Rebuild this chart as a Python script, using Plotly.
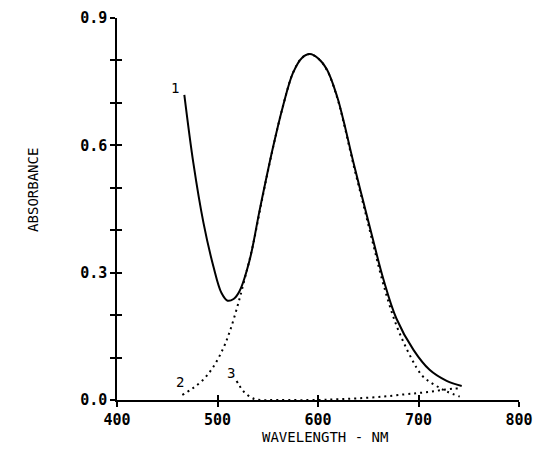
import plotly.graph_objects as go

# ---- data ----
wl_total = [467, 476, 486, 496, 504, 510, 516, 522, 532, 542, 555, 565, 575, 584,
            592, 600, 609, 619, 625, 635, 645, 655, 665, 678, 695, 711, 728, 743]
abs_total = [0.719, 0.558, 0.418, 0.314, 0.252, 0.234, 0.238, 0.257, 0.330, 0.448,
             0.593, 0.691, 0.770, 0.806, 0.815, 0.805, 0.778, 0.715, 0.662, 0.562,
             0.468, 0.375, 0.285, 0.192, 0.118, 0.071, 0.045, 0.033]

wl_band2 = [465, 475, 485, 495, 505, 512, 520, 527, 535, 545, 555, 565, 575, 584,
            592, 600, 609, 619, 625, 635, 645, 655, 665, 678, 693, 703, 711, 720,
            728, 741]
abs_band2 = [0.012, 0.027, 0.046, 0.075, 0.118, 0.160, 0.222, 0.285, 0.362, 0.480,
             0.592, 0.691, 0.770, 0.806, 0.815, 0.805, 0.777, 0.713, 0.659, 0.557,
             0.462, 0.366, 0.273, 0.176, 0.098, 0.059, 0.043, 0.030, 0.020, 0.008]

wl_band3 = [519, 522, 526, 532, 539, 560, 600, 620, 640, 665, 685, 698, 710, 722,
            735, 743]
abs_band3 = [0.045, 0.033, 0.020, 0.008, 0.001, 0.000, 0.000, 0.002, 0.004, 0.008,
             0.013, 0.016, 0.019, 0.023, 0.027, 0.027]

curve_labels = ["1", "2", "3"]
label_x = [458, 463, 513]
label_y = [0.735, 0.043, 0.064]

x_tickvals = [400, 500, 600, 700, 800]
x_ticktext = ["400", "500", "600", "700", "800"]
y_tickvals = [0.0, 0.1, 0.2, 0.3, 0.4, 0.5, 0.6, 0.7, 0.8, 0.9]
y_ticktext = ["0.0", "", "", "0.3", "", "", "0.6", "", "", "0.9"]

FONT = "DejaVu Sans Mono"

fig = go.Figure()
fig.add_trace(go.Scatter(x=wl_total, y=abs_total, mode="lines",
                         line=dict(color="black", width=2, shape="spline"),
                         showlegend=False))
fig.add_trace(go.Scatter(x=wl_band2, y=abs_band2, mode="lines",
                         line=dict(color="black", width=2, shape="spline",
                                   dash="2px,4px"),
                         showlegend=False))
fig.add_trace(go.Scatter(x=wl_band3, y=abs_band3, mode="lines",
                         line=dict(color="black", width=2, shape="spline",
                                   dash="2px,4px"),
                         showlegend=False))
# helper trace so the inner-tick overlay axes are drawn
fig.add_trace(go.Scatter(x=[None], y=[None], xaxis="x2", yaxis="y2",
                         showlegend=False, hoverinfo="skip"))

for t, xx, yy in zip(curve_labels, label_x, label_y):
    fig.add_annotation(x=xx, y=yy, text=t, showarrow=False,
                       font=dict(family=FONT, size=14, color="black"))

fig.add_annotation(xref="paper", yref="paper", x=-0.209, y=0.55,
                   text="ABSORBANCE", textangle=-90, showarrow=False,
                   xanchor="center", yanchor="middle",
                   font=dict(family=FONT, size=14, color="black"))
fig.add_annotation(xref="paper", yref="paper", x=0.517, y=-0.097,
                   text="WAVELENGTH - NM", showarrow=False,
                   xanchor="center", yanchor="middle",
                   font=dict(family=FONT, size=14, color="black"))

axis_common = dict(showgrid=False, zeroline=False, showline=True,
                   linecolor="black", linewidth=1.5, tickcolor="black",
                   tickwidth=1.5, ticklen=5, automargin=False)
tickfont = dict(family=FONT, size=15, color="black", weight="bold")

fig.update_layout(
    width=535, height=464, autosize=False,
    margin=dict(l=117, r=16, t=18, b=64, autoexpand=False),
    paper_bgcolor="white", plot_bgcolor="white",
    font=dict(family=FONT, size=14, color="black"),
    xaxis=dict(range=[400, 800], tickvals=x_tickvals, ticktext=x_ticktext,
               ticks="outside", tickfont=tickfont, **axis_common),
    yaxis=dict(range=[0, 0.9], tickvals=y_tickvals, ticktext=y_ticktext,
               ticks="outside", tickfont=tickfont, **axis_common),
    xaxis2=dict(range=[400, 800], tickvals=x_tickvals, ticks="inside",
                showticklabels=False, overlaying="x", side="bottom",
                anchor="y2", **axis_common),
    yaxis2=dict(range=[0, 0.9], tickvals=y_tickvals, ticks="inside",
                showticklabels=False, overlaying="y", side="left",
                anchor="x2", **axis_common),
)

# remove the default 8px page margin so the figure sits at the window origin
fig.write_html("out.html", config={"displayModeBar": False},
               post_script="document.body.style.margin='0px';")
